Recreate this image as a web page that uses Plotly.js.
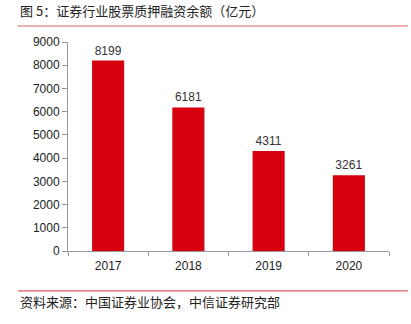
<!DOCTYPE html>
<html><head><meta charset="utf-8">
<script src="https://cdn.plot.ly/plotly-3.0.1.min.js"></script>
<style>html,body{margin:0;padding:0;background:#fff}#c{width:411px;height:324px}</style>
</head><body><div id="c"></div>
<script>
const years = ['2017', '2018', '2019', '2020'];
const balances = [8199, 6181, 4311, 3261];
const yTicks = [0, 1000, 2000, 3000, 4000, 5000, 6000, 7000, 8000, 9000];
const titleText = '图 5：证券行业股票质押融资余额（亿元）';
const sourceText = '资料来源：中国证券业协会，中信证券研究部';

const font = '"Noto Sans CJK SC", "Liberation Sans", Arial, sans-serif';
const trace = {
  type: 'bar', x: years, y: balances,
  marker: {color: '#d7000f'}, width: 0.4,
  text: balances.map(String), textposition: 'outside',
  textfont: {family: 'Liberation Sans, Arial, sans-serif', size: 12, color: '#333'},
  cliponaxis: false, hoverinfo: 'none'
};
const layout = {
  width: 411, height: 324,
  margin: {l: 68, r: 22, t: 42, b: 73},
  paper_bgcolor: '#fff', plot_bgcolor: '#fff',
  showlegend: false, bargap: 0.6,
  font: {family: 'Liberation Sans, Arial, sans-serif', size: 12, color: '#222'},
  xaxis: {type: 'category', tickson: 'boundaries', ticks: 'outside', ticklen: 4, tickcolor: '#999',
          showline: true, linecolor: '#999', linewidth: 1, showgrid: false, ticklabelstandoff: 4,
          tickfont: {size: 12, color: '#222'}},
  yaxis: {range: [0, 9000], tickvals: yTicks, ticks: 'outside', ticklen: 5, tickcolor: '#999',
          showline: true, linecolor: '#999', linewidth: 1, showgrid: false, zeroline: false,
          tickfont: {size: 12, color: '#222'}},
  shapes: [
    {type: 'line', xref: 'paper', yref: 'paper', x0: -0.156, x1: 1.059, y0: 1.0766, y1: 1.0766,
     line: {color: '#e06060', width: 1.2}},
    {type: 'line', xref: 'paper', yref: 'paper', x0: -0.156, x1: 1.059, y0: -0.191, y1: -0.191,
     line: {color: '#e06060', width: 1.2}}
  ],
  annotations: [
    {text: titleText, xref: 'paper', yref: 'paper', x: -0.156, y: 1.153, xanchor: 'left', yanchor: 'middle',
     showarrow: false, font: {family: font, size: 13, color: '#222'}},
    {text: sourceText, xref: 'paper', yref: 'paper', x: -0.156, y: -0.244, xanchor: 'left', yanchor: 'middle',
     showarrow: false, font: {family: font, size: 13, color: '#222'}}
  ]
};
Plotly.newPlot('c', [trace], layout, {staticPlot: true, displayModeBar: false});
</script></body></html>
